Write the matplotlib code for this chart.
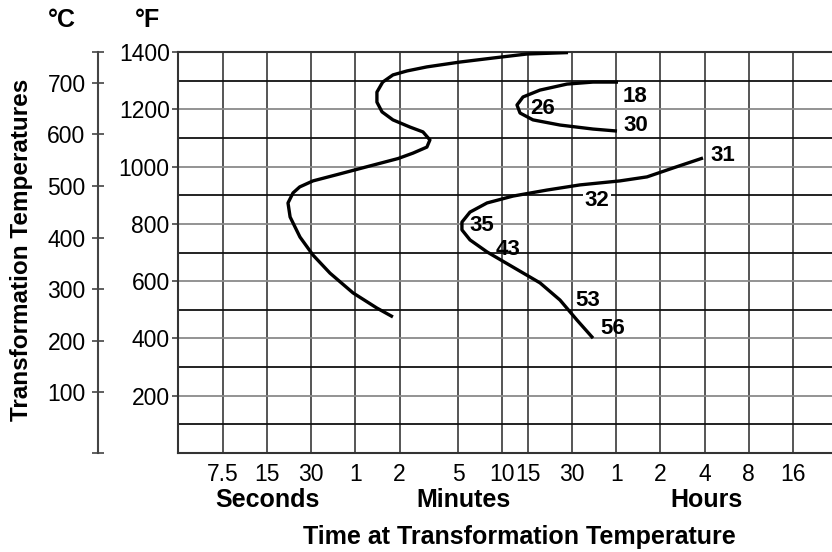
import numpy as np
import matplotlib.pyplot as plt
from matplotlib.ticker import FixedLocator, NullFormatter, FixedFormatter

plt.rcParams['font.family'] = ['Liberation Sans', 'DejaVu Sans']

# transformation curves, time in seconds, temperature in °F
upper_t = [1686, 886, 520, 310, 184, 135, 108, 92, 84, 84, 91, 108, 141, 173, 193, 184,
           148, 117, 75, 45, 30.8, 25, 22.5, 20.8, 21.5, 25.1, 30.8, 40.2, 57.7, 84, 108]
upper_f = [1398, 1393, 1379, 1365, 1348, 1334, 1320, 1295, 1260, 1225, 1191, 1163, 1138, 1121, 1093, 1068,
           1047, 1028, 1002, 972, 950, 929, 908, 873, 824, 754, 691, 628, 559, 506, 475]

mid_t = [3696, 2497, 1660, 1086, 832, 757, 794, 973, 1487, 2497, 3638]
mid_f = [1295, 1295, 1288, 1267, 1243, 1215, 1187, 1163, 1145, 1131, 1124]

low_t = [14033, 8761, 5826, 3813, 2035, 1212, 711, 473, 362, 319, 319, 362, 473, 711, 1086, 1487, 1942, 2497]
low_f = [1030, 995, 964, 950, 936, 918, 897, 873, 841, 806, 779, 744, 702, 649, 594, 534, 464, 401]

# hardness numbers written along the curves
hard_text = ['18', '26', '30', '31', '32', '35', '43', '53', '56']
hard_t = [4825, 1139, 4902, 19200, 2658, 437, 658, 2308, 3417]
hard_f = [1243, 1204, 1142, 1040, 880, 793, 709, 531, 436]

# time axis ticks
sec_ticks = [7.5, 15, 30]
min_ticks = [1, 2, 5, 10, 15, 30]
hour_ticks = [1, 2, 4, 8, 16]

f_ticks = [200, 400, 600, 800, 1000, 1200, 1400]
c_ticks = [100, 200, 300, 400, 500, 600, 700]

W, H = 832, 552
fig = plt.figure(figsize=(W / 100, H / 100), dpi=100)
ax = fig.add_axes([178 / W, 1 - 453 / H, 1 - 178 / W, (453 - 52) / H])

ax.set_xscale('log')
ax.set_xlim(3.70, 106300)
ax.set_ylim(0, 1400)

xt = [s for s in sec_ticks] + [m * 60 for m in min_ticks] + [h * 3600 for h in hour_ticks]
xl = ['%g' % s for s in sec_ticks] + ['%g' % m for m in min_ticks] + ['%g' % h for h in hour_ticks]
ax.xaxis.set_major_locator(FixedLocator(xt))
ax.xaxis.set_major_formatter(FixedFormatter(xl))
ax.xaxis.set_minor_locator(FixedLocator([]))
ax.xaxis.set_minor_formatter(NullFormatter())
ax.tick_params(axis='x', length=0, pad=7, labelsize=16.5)
ax.set_yticks(f_ticks)
ax.tick_params(axis='y', length=4, width=1.2, color='#444', pad=2, labelsize=16.5)

# grid
for x in xt:
    ax.axvline(x, color='#555', lw=1.4, zorder=1)
for lev in range(100, 1400, 100):
    dark = (lev // 100) % 2 == 1
    ax.axhline(lev, color='#111' if dark else '#8a8a8a', lw=1.3, zorder=1)

for s in ['left', 'bottom', 'top']:
    ax.spines[s].set_color('#333')
    ax.spines[s].set_linewidth(1.5)
ax.spines['right'].set_visible(False)

# curves
for t, f in [(upper_t, upper_f), (mid_t, mid_f), (low_t, low_f)]:
    ax.plot(t, f, color='black', lw=2.4, solid_capstyle='butt', solid_joinstyle='round', zorder=3)

for txt, t, f in zip(hard_text, hard_t, hard_f):
    box = dict(facecolor='white', edgecolor='none', pad=1) if txt == '32' else None
    ax.text(t, f, txt, ha='center', va='center', fontsize=16, fontweight='bold', bbox=box, zorder=4)

# Celsius scale
sec = ax.secondary_yaxis((98 - 178) / (W - 178),
                         functions=(lambda F: (F - 32) * 5 / 9, lambda C: C * 9 / 5 + 32))
sec.set_yticks(c_ticks)
sec.yaxis.set_minor_locator(FixedLocator([(0 - 32) * 5 / 9, (1400 - 32) * 5 / 9]))
sec.tick_params(axis='y', which='major', direction='inout', length=8, width=1.2, color='#444', pad=5, labelsize=16.5)
sec.tick_params(axis='y', which='minor', direction='inout', length=8, width=1.2, color='#444')
sec.spines['left'].set_color('#444')
sec.spines['left'].set_linewidth(1.5)

fig.text(62 / W, 1 - 20 / H, '°C', ha='center', va='center', fontsize=18, fontweight='bold')
fig.text(148 / W, 1 - 20 / H, '°F', ha='center', va='center', fontsize=18, fontweight='bold')
fig.text(22 / W, 1 - 250 / H, 'Transformation Temperatures', rotation=90,
         ha='center', va='center', fontsize=17.5, fontweight='bold')
fig.text(267 / W, 1 - 500 / H, 'Seconds', ha='center', va='center', fontsize=18, fontweight='bold')
fig.text(464 / W, 1 - 500 / H, 'Minutes', ha='center', va='center', fontsize=18, fontweight='bold')
fig.text(707 / W, 1 - 500 / H, 'Hours', ha='center', va='center', fontsize=18, fontweight='bold')
fig.text(519 / W, 1 - 537 / H, 'Time at Transformation Temperature', ha='center', va='center',
         fontsize=18, fontweight='bold')

fig.savefig('out.png', dpi=100)
